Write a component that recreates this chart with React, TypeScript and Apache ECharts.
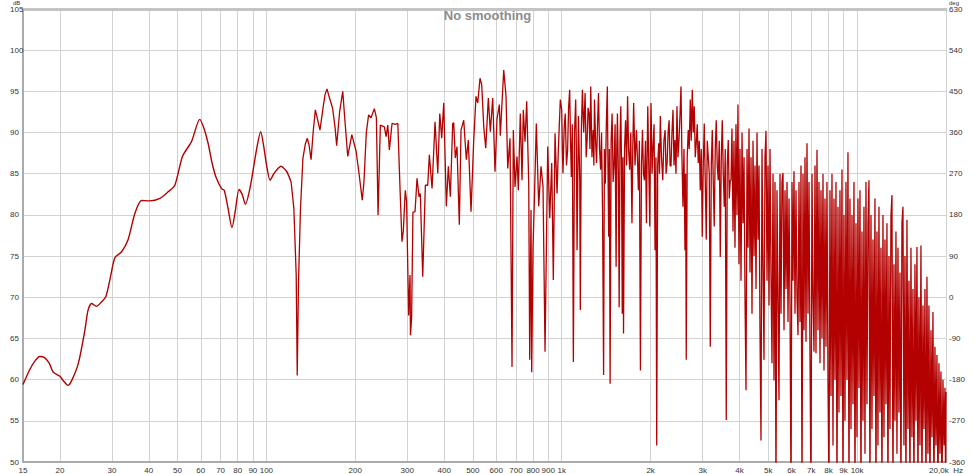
import React, { useEffect, useRef } from "react";
import * as echarts from "echarts";

// x-axis tick frequencies (Hz) and their labels
const xTickHz = [15, 20, 30, 40, 50, 60, 70, 80, 90, 100, 200, 300, 400, 500, 600, 700, 800, 900, 1000, 2000, 3000, 4000, 5000, 6000, 7000, 8000, 9000, 10000, 20000];
const xTickLabels = ["15", "20", "30", "40", "50", "60", "70", "80", "90", "100", "200", "300", "400", "500", "600", "700", "800", "900", "1k", "2k", "3k", "4k", "5k", "6k", "7k", "8k", "9k", "10k", "20,0k  Hz"];

// [Hz, dB] readings, smooth bass range (15 Hz – 121 Hz)
const bassBand: [number, number][] = [
  [15, 59.4], [15.8, 61.2], [16.5, 62.3], [17.1, 62.8], [17.7, 62.7], [18.4, 62.0], [19.0, 60.9], [20.0, 60.4], [20.6, 59.8], [21.3, 59.3],
  [22.0, 60.0], [23.1, 62.0], [24.3, 66.0], [24.9, 68.4], [25.6, 69.25], [26.6, 68.9], [27.6, 69.4], [28.6, 70.05], [29.6, 72.3], [30.7, 74.8],
  [32.3, 75.5], [34.0, 76.95], [35.9, 80.2], [37.8, 81.75], [40.3, 81.7], [43.6, 82.0], [46.5, 82.8], [49.0, 83.6], [52.0, 87.1], [55.8, 88.9],
  [59.5, 91.6], [61.5, 90.5], [63.5, 88.7], [65.5, 86.3], [67.5, 84.6], [70.5, 83.2], [72.0, 83.0], [74.0, 81.0], [76.5, 78.45], [78.5, 80.5],
  [80.8, 83.1], [82.8, 82.5], [84.9, 81.3], [88.2, 83.4], [92.6, 87.9], [95.7, 90.1], [98, 88.3], [100, 86.2], [103, 84.2], [106, 85.0],
  [112, 85.9], [117, 85.3], [121.3, 84.0]
];

// [Hz, dB] readings, low-mid range (121 Hz – 340 Hz)
const lowBand: [number, number][] = [
  [123.9, 80.8], [126.2, 72.7], [127.2, 60.5], [128.5, 71.9], [130.5, 80.8], [133.0, 86.9], [135.5, 88.6],
  [137.6, 89.3], [139.5, 88.5], [141.7, 86.7], [144, 90.0], [146.5, 92.75], [149, 91.6], [151.9, 90.3], [155, 92.6], [158, 94.6], [160.4, 95.3],
  [163, 94.4], [167.6, 92.95], [171, 90.5], [173, 88.4], [177, 92.5], [181.4, 95.0], [184, 92.0], [188.6, 87.1], [194.7, 89.75], [201.4, 87.7],
  [206, 85.0], [211.2, 81.8], [214, 84.0], [218, 90.0], [221.9, 92.15], [226.2, 91.8], [232.1, 92.9], [235.8, 91.8], [238.9, 79.95], [243.2, 90.9],
  [250.9, 90.7], [254.3, 89.5], [257.7, 90.9], [260.9, 87.9], [266.4, 91.1], [273.5, 91.0], [278.7, 91.1], [283, 84.0], [287.8, 76.75], [290.8, 78.0],
  [295.4, 83.0], [298.4, 81.6], [303.2, 67.8], [306.5, 72.7], [307.5, 65.4], [310.3, 67.5], [313.5, 80.3], [318.7, 80.4], [323.7, 84.45], [328.8, 82.2],
  [332.1, 82.6], [338.4, 72.5]
];

// [Hz, dB] readings, middle range (340 Hz – 1 kHz)
const midBand: [number, number][] = [
  [345.4, 83.6], [351.9, 83.6], [356.3, 87.3], [363.9, 83.2], [372.5, 91.3], [380.5, 85.05], [386.5, 92.3], [392.4, 89.3], [398.6, 93.6], [406.8, 81.05],
  [413.2, 85.9], [419.7, 82.2], [427.5, 91.1], [430.9, 91.2], [436.3, 86.9], [442.1, 88.3], [450.1, 78.8], [456.1, 90.3], [465.8, 91.5], [475.4, 86.7],
  [482.8, 89.1], [493.1, 80.4], [503.6, 89.1], [512.7, 94.4], [519.6, 93.6], [528.9, 96.6], [536.0, 95.8], [544.5, 90.7], [553.0, 88.1], [564.3, 94.2],
  [573.2, 90.1], [584.0, 94.2], [594.6, 85.25], [603.9, 91.7], [614.9, 93.4], [619.6, 89.6], [636.3, 97.6], [647.8, 94.4], [656.5, 85.65], [668.3, 89.3],
  [678.8, 61.55], [685.7, 90.3], [694.8, 83.4], [705.8, 87.1], [713.0, 83.0], [724.1, 92.3], [733.8, 84.2], [741.3, 92.75], [751.2, 88.9], [761.2, 93.8],
  [773.2, 83.8], [779.2, 62.4], [787.1, 80.6], [791.4, 60.9], [799.5, 76.1], [807.6, 81.4], [820.3, 91.1], [835.8, 81.05], [851.0, 85.9], [864.4, 83.4],
  [878.0, 63.4], [896.7, 88.3], [910.7, 79.6], [925.1, 86.3], [936.7, 72.1], [949.2, 89.9], [964.1, 82.6], [973.9, 87.9], [989.2, 94.0]
];

// [Hz, dB] readings, upper-mid range (1 kHz – 3.7 kHz)
const upperBand: [number, number][] = [
  [1000, 92.75], [1005, 88], [1010, 85.05], [1019, 90.5], [1028, 92.3], [1038, 86], [1047, 87.9], [1055, 93], [1064, 95.2], [1071, 89],
  [1078, 84.6], [1086, 91], [1095, 62.15], [1105, 90], [1115, 94.0], [1121, 88], [1127, 75.7], [1139, 92], [1151, 84.2], [1156, 68.45],
  [1165, 90], [1175, 95.2], [1187, 90], [1200, 94.8], [1210, 87], [1219, 89.1], [1228, 93], [1238, 92.3], [1246, 88], [1254, 95.6],
  [1266, 87], [1278, 90.3], [1285, 86], [1291, 94.0], [1302, 89], [1312, 86.3], [1322, 91], [1332, 94.8], [1343, 88], [1354, 85.5],
  [1364, 90], [1375, 80.2], [1386, 60.55], [1395, 88], [1405, 83.8], [1416, 91], [1427, 95.6], [1434, 86], [1442, 77.35], [1450, 88],
  [1458, 59.5], [1470, 89], [1481, 92.3], [1493, 84], [1505, 86.3], [1516, 91], [1528, 73.7], [1536, 88], [1544, 92.3], [1555, 85],
  [1565, 68.8], [1575, 89], [1585, 93.2], [1594, 86], [1603, 68.0], [1611, 87], [1619, 65.6], [1632, 88], [1645, 91.5], [1658, 86],
  [1671, 94.4], [1684, 88], [1698, 85.5], [1713, 90], [1729, 79.0], [1740, 88], [1752, 93.6], [1771, 86], [1790, 90.3], [1804, 87],
  [1818, 83.0], [1832, 89], [1847, 61.1], [1862, 86], [1877, 90.3], [1891, 85], [1906, 84.2], [1921, 89], [1936, 79.0], [1946, 87],
  [1956, 93.2], [1971, 86], [1987, 78.6], [1996, 88], [2006, 93.6], [2022, 85], [2038, 88.3], [2054, 91], [2070, 75.7], [2084, 87],
  [2097, 52.0], [2113, 86], [2130, 88.7], [2143, 85], [2157, 92.0], [2177, 87], [2198, 84.2], [2218, 89], [2239, 90.3], [2256, 85],
  [2274, 86.3], [2292, 90], [2310, 91.5], [2327, 86], [2344, 85.9], [2362, 90], [2381, 92.75], [2400, 86], [2418, 89.1], [2437, 85],
  [2456, 93.2], [2475, 87], [2495, 89.1], [2514, 92], [2534, 95.6], [2553, 87], [2573, 81.0], [2594, 88], [2614, 75.7], [2627, 85],
  [2640, 62.4], [2660, 87], [2681, 90.3], [2702, 88], [2724, 94.0], [2745, 89], [2767, 95.2], [2788, 90], [2810, 93.2], [2832, 87],
  [2854, 88.7], [2876, 91], [2899, 86.3], [2922, 89], [2945, 83.0], [2968, 88], [2991, 77.35], [3014, 86], [3038, 91.1], [3062, 84],
  [3086, 77.0], [3110, 89], [3134, 87.1], [3159, 85], [3184, 64.0], [3209, 86], [3234, 90.3], [3259, 84], [3284, 78.6], [3310, 88],
  [3336, 91.5], [3362, 86], [3388, 84.2], [3415, 89], [3442, 74.9], [3469, 87], [3496, 91.5], [3523, 85], [3551, 81.0], [3578, 88],
  [3606, 55.1], [3634, 86], [3663, 89.1], [3692, 82], [3721, 84.2]
];

// [Hz, dB] readings, high range (3.7 kHz – 20 kHz), values below 50 dB run off the bottom
const highBand: [number, number][] = [
  [3742, 84.2], [3771, 90.5], [3801, 78], [3830, 89], [3860, 76], [3890, 91], [3921, 80], [3951, 93.4], [3982, 74], [4013, 88],
  [4046, 72], [4078, 90], [4110, 79], [4142, 87], [4174, 70], [4207, 58.7], [4240, 88], [4273, 76], [4306, 90.5], [4340, 73],
  [4374, 87], [4408, 68], [4443, 89], [4477, 75], [4512, 86], [4548, 71], [4583, 90], [4619, 77], [4655, 86], [4691, 66],
  [4728, 52.6], [4765, 88], [4802, 74], [4840, 62.4], [4878, 87], [4916, 90.2], [4955, 72], [4993, 86], [5033, 69], [5072, 88],
  [5111, 73], [5151, 62], [5192, 85], [5232, 59.9], [5273, 84], [5314, 46], [5356, 83], [5398, 70], [5440, 57.5], [5483, 85],
  [5526, 68], [5569, 84], [5613, 85.1], [5657, 66], [5701, 83], [5746, 71], [5791, 84], [5836, 67], [5882, 82], [5928, 69],
  [5974, 46], [6021, 84], [6068, 72], [6115, 85.3], [6163, 68], [6211, 83], [6260, 70], [6309, 65.4], [6358, 84], [6408, 67],
  [6458, 86], [6509, 46], [6560, 85], [6611, 66], [6663, 87], [6715, 64.6], [6767, 88.7], [6820, 68], [6874, 84], [6927, 63],
  [6981, 46], [7036, 85], [7091, 70], [7147, 63.4], [7203, 86], [7259, 63.2], [7316, 87.9], [7373, 66], [7431, 84], [7489, 62],
  [7547, 83], [7606, 65], [7666, 85], [7726, 61.1], [7786, 82], [7847, 64], [7908, 84], [7970, 60], [8032, 46], [8095, 83],
  [8159, 58], [8223, 85], [8287, 52], [8352, 82], [8417, 60], [8483, 84], [8549, 46], [8616, 81], [8683, 56], [8751, 83],
  [8820, 58], [8889, 85.5], [8958, 46], [9028, 80], [9099, 55], [9170, 84], [9242, 60], [9314, 87.6], [9387, 46], [9460, 82],
  [9535, 54], [9609, 80], [9685, 57], [9760, 84], [9837, 46], [9914, 79], [9991, 53], [10069, 82], [10148, 59], [10228, 83],
  [10308, 46], [10388, 78], [10470, 55], [10551, 81], [10634, 51], [10717, 84], [10801, 57], [10885, 79], [10970, 84.2], [11056, 46],
  [11143, 80], [11230, 54], [11318, 77], [11406, 58], [11495, 82], [11585, 46], [11676, 78], [11767, 52], [11859, 81], [11952, 56],
  [12046, 76], [12140, 46], [12235, 80], [12331, 53], [12427, 77], [12524, 57], [12622, 79], [12721, 46], [12820, 75], [12921, 54],
  [13023, 80], [13125, 82.4], [13227, 46], [13331, 74], [13435, 55], [13540, 78], [13646, 51], [13753, 76], [13860, 56], [13969, 73],
  [14078, 46], [14188, 79], [14299, 81], [14411, 52], [14524, 75], [14637, 46], [14752, 79.4], [14867, 54], [14984, 72], [15101, 46],
  [15219, 76], [15338, 53], [15458, 71], [15579, 46], [15701, 74], [15823, 55], [15947, 76.1], [16072, 46], [16197, 70], [16324, 52],
  [16453, 76.3], [16581, 46], [16711, 69], [16841, 54], [16973, 71], [17106, 46], [17240, 72.5], [17374, 51], [17510, 69], [17647, 46],
  [17786, 66], [17925, 53], [18065, 68.2], [18206, 46], [18349, 64], [18492, 52], [18637, 63], [18783, 46], [18930, 62], [19078, 51],
  [19228, 61], [19378, 46], [19530, 60], [19683, 52], [19837, 59], [19950, 46], [20000, 58.5]
];

const FONT = "'Liberation Sans', Arial, sans-serif";
const LINE_COLOR = "#b30000";

export default function App() {
  const ref = useRef<HTMLDivElement>(null);

  useEffect(() => {
    if (!ref.current) return;
    const chart = echarts.init(ref.current, undefined, { renderer: "svg" });
    const toXY = (pts: [number, number][]) => pts.map(([f, db]) => [Math.log10(f), db]);
    const smoothData = toXY(bassBand);
    const rawData = toXY([bassBand[bassBand.length - 1], ...lowBand, ...midBand, ...upperBand, ...highBand]);
    const tickPos = xTickHz.map((f) => Math.log10(f));
    const labelFor = (v: number) => {
      let best = 0;
      let bd = Infinity;
      tickPos.forEach((p, i) => {
        const d = Math.abs(p - v);
        if (d < bd) {
          bd = d;
          best = i;
        }
      });
      return xTickLabels[best];
    };
    const xMin = Math.log10(15);
    const xMax = Math.log10(20000);

    chart.setOption({
      animation: false,
      backgroundColor: "#ffffff",
      title: {
        text: "No smoothing",
        left: "center",
        top: 9,
        padding: 0,
        textStyle: { color: "#8c8c8c", fontSize: 13, fontWeight: "bold", fontFamily: FONT },
      },
      grid: { left: 23, right: 29, top: 9, bottom: 12, containLabel: false },
      xAxis: [
        {
          type: "value",
          min: xMin,
          max: xMax,
          axisLine: { show: true, onZero: false, lineStyle: { color: "#ababab", width: 2 } },
          axisTick: { show: false, customValues: tickPos },
          axisLabel: {
            customValues: tickPos,
            formatter: (v: number) => labelFor(v),
            margin: 4,
            fontSize: 8,
            color: "#333",
            fontFamily: FONT,
          },
          splitLine: { show: true, lineStyle: { color: "#d2d2d2", width: 1 } },
        },
        {
          type: "value",
          position: "top",
          min: xMin,
          max: xMax,
          axisLine: { show: true, onZero: false, lineStyle: { color: "#c4c4c4", width: 3 } },
          axisTick: { show: false },
          axisLabel: { show: false },
          splitLine: { show: false },
        },
      ],
      yAxis: [
        {
          type: "value",
          min: 50,
          max: 105,
          interval: 5,
          axisLine: { show: true, onZero: false, lineStyle: { color: "#ababab", width: 2 } },
          axisTick: { show: false },
          axisLabel: { align: "left", margin: 13, fontSize: 8, color: "#333", fontFamily: FONT },
          splitLine: { show: true, lineStyle: { color: "#d2d2d2", width: 1 } },
        },
        {
          type: "value",
          min: -360,
          max: 630,
          interval: 90,
          position: "right",
          axisLine: { show: false, onZero: false },
          axisTick: { show: false },
          axisLabel: { margin: 3, fontSize: 8, color: "#333", fontFamily: FONT },
          splitLine: { show: false },
        },
      ],
      graphic: [
        { type: "text", left: 13, top: 0, style: { text: "dB", fontSize: 6, lineHeight: 6, fill: "#333", fontFamily: FONT } },
        { type: "text", left: 949, top: 0, style: { text: "deg", fontSize: 6, lineHeight: 6, fill: "#333", fontFamily: FONT } },
      ],
      series: [
        {
          type: "line",
          data: smoothData,
          xAxisIndex: 0,
          yAxisIndex: 0,
          showSymbol: false,
          smooth: 0.25,
          clip: true,
          lineStyle: { color: LINE_COLOR, width: 1.4 },
        },
        {
          type: "line",
          data: rawData,
          xAxisIndex: 0,
          yAxisIndex: 0,
          showSymbol: false,
          clip: true,
          lineStyle: { color: LINE_COLOR, width: 1.3 },
        },
      ],
    });
    return () => chart.dispose();
  }, []);

  return (
    <div
      ref={ref}
      style={{ position: "absolute", left: 0, top: 0, width: 975, height: 474 }}
    />
  );
}
